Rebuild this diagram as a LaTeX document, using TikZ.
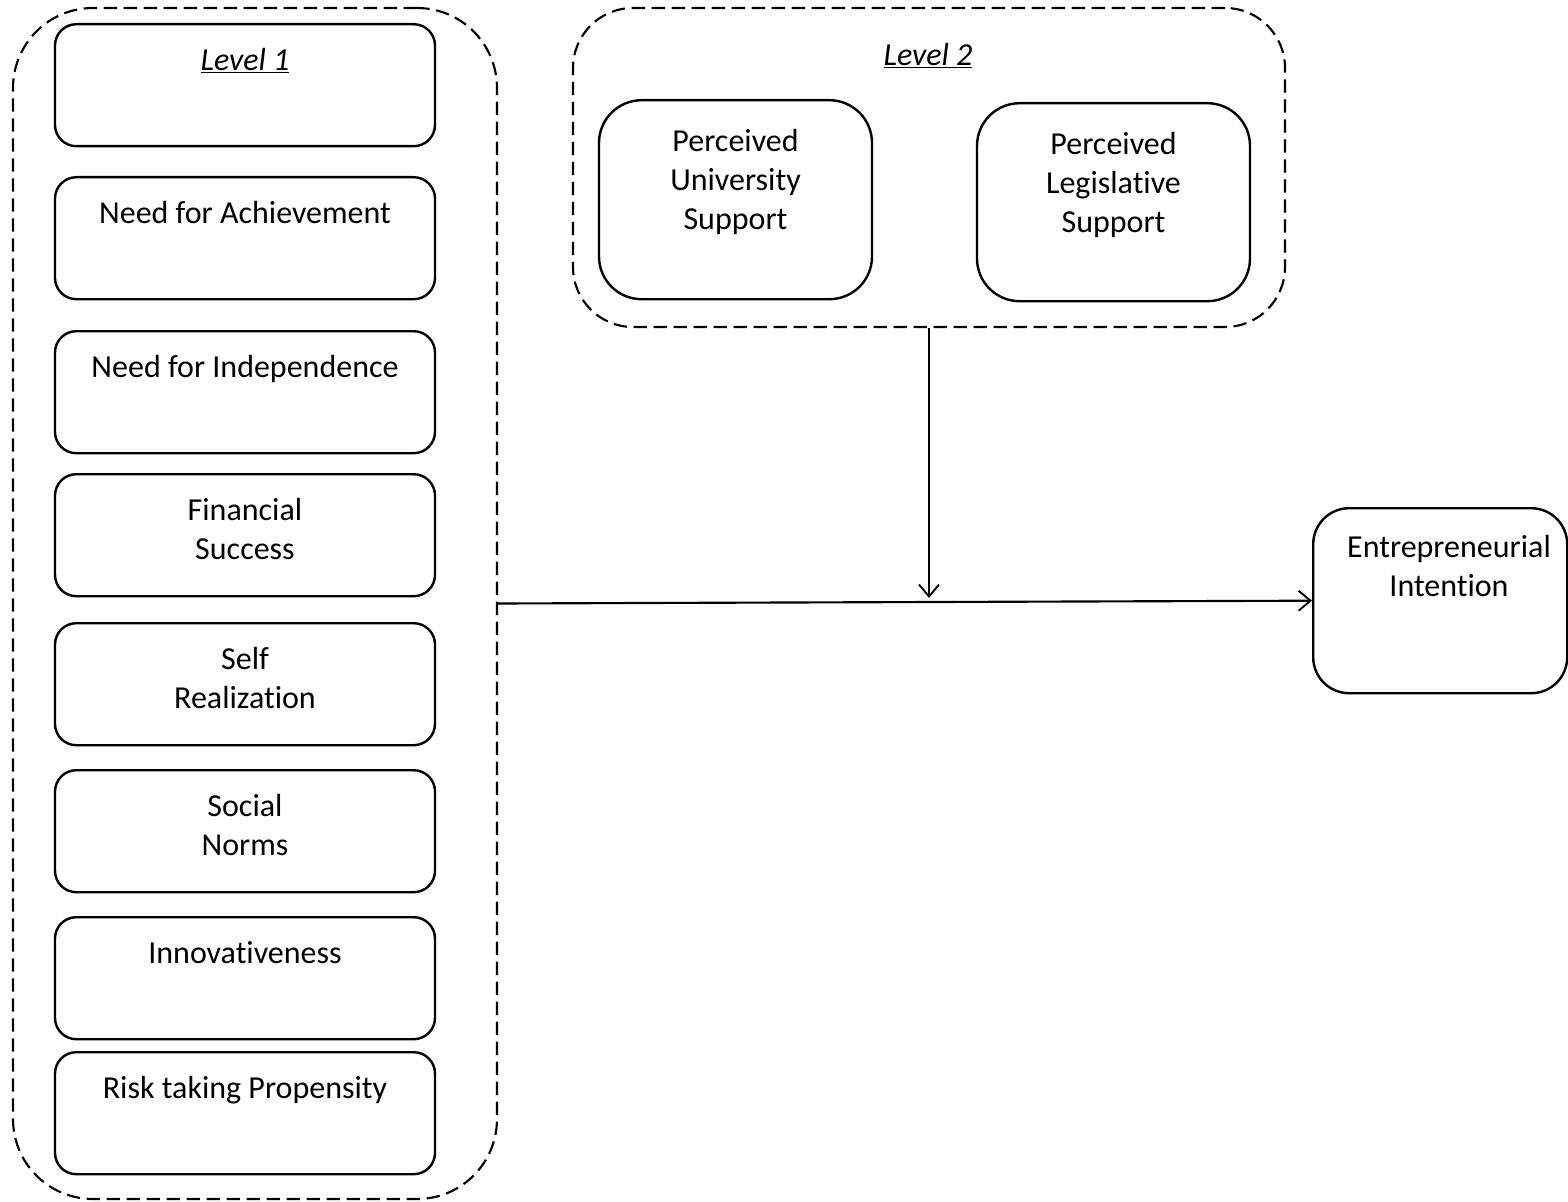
\documentclass[tikz,border=0pt]{standalone}
\usepackage{fontspec}
\setmainfont[Ligatures=NoCommon]{Carlito}
\usetikzlibrary{arrows.meta}
\begin{document}
\begin{tikzpicture}[x=0.75pt,y=-0.75pt,
  grp/.style={draw,line width=1.6pt,dash pattern=on 10pt off 5pt,rounded corners=#1,inner sep=0},
  box/.style={draw,line width=1.8pt,rounded corners=#1,inner sep=0},
  txt/.style={anchor=north,inner sep=0,align=center,font=\fontsize{24}{29.25}\selectfont},
  arr/.style={line width=1.6pt,-{Straight Barb[length=9pt,width=15pt,line width=1.4pt]}}]
\useasboundingbox (0,0) rectangle (1568,1202);
% containers
\node[grp=60pt,minimum width=484*0.75pt,minimum height=1191*0.75pt] (l1grp) at (255,603.5) {};
\node[grp=45pt,minimum width=712*0.75pt,minimum height=319*0.75pt] (l2grp) at (929,167.5) {};
% level 1 boxes
\foreach \n/\t in {lv1/23, nach/176, nind/330, fin/473, self/622, soc/769, inn/916, risk/1051}{
  \node[box=16pt,minimum width=380*0.75pt,minimum height=122*0.75pt,anchor=north] (\n) at (245,\t) {};
}
\node[txt] (tlv1) at ([yshift=-15pt]lv1.north) {\strut\textit{\underline{Level 1}}};
\node[txt] (tnach) at ([yshift=-15pt]nach.north) {\strut Need for Achievement};
\node[txt] (tnind) at ([yshift=-15pt]nind.north) {\strut Need for Independence};
\node[txt] (tfin) at ([yshift=-15pt]fin.north) {\strut Financial\\Success};
\node[txt] (tself) at ([yshift=-15pt]self.north) {\strut Self\\Realization};
\node[txt] (tsoc) at ([yshift=-15pt]soc.north) {\strut Social\\Norms};
\node[txt] (tinn) at ([yshift=-15pt]inn.north) {\strut Innovativeness};
\node[txt] (trisk) at ([yshift=-15pt]risk.north) {\strut Risk taking Propensity};
% level 2
\node[txt] (tlv2) at (928,38) {\strut\textit{\underline{Level 2}}};
\node[box=32pt,minimum width=273*0.75pt,minimum height=199*0.75pt,anchor=north] (pus) at (735.5,99) {};
\node[box=32pt,minimum width=273*0.75pt,minimum height=198*0.75pt,anchor=north] (pls) at (1113.5,102) {};
\node[txt] (tpus) at (735.5,124) {\strut Perceived\\University\\Support};
\node[txt] (tpls) at (1113.5,127) {\strut Perceived\\Legislative\\Support};
% outcome
\node[box=27pt,minimum width=254*0.75pt,minimum height=185*0.75pt,anchor=north west] (ei) at (1312,507) {};
\node[txt] (tei) at (1449,530) {\strut Entrepreneurial\\Intention};
% connectors
\coordinate (meet) at (929,598);
\draw[arr] (l1grp.east) -- (ei.west);
\draw[arr] (l2grp.south) -- (meet);
\end{tikzpicture}
\end{document}
